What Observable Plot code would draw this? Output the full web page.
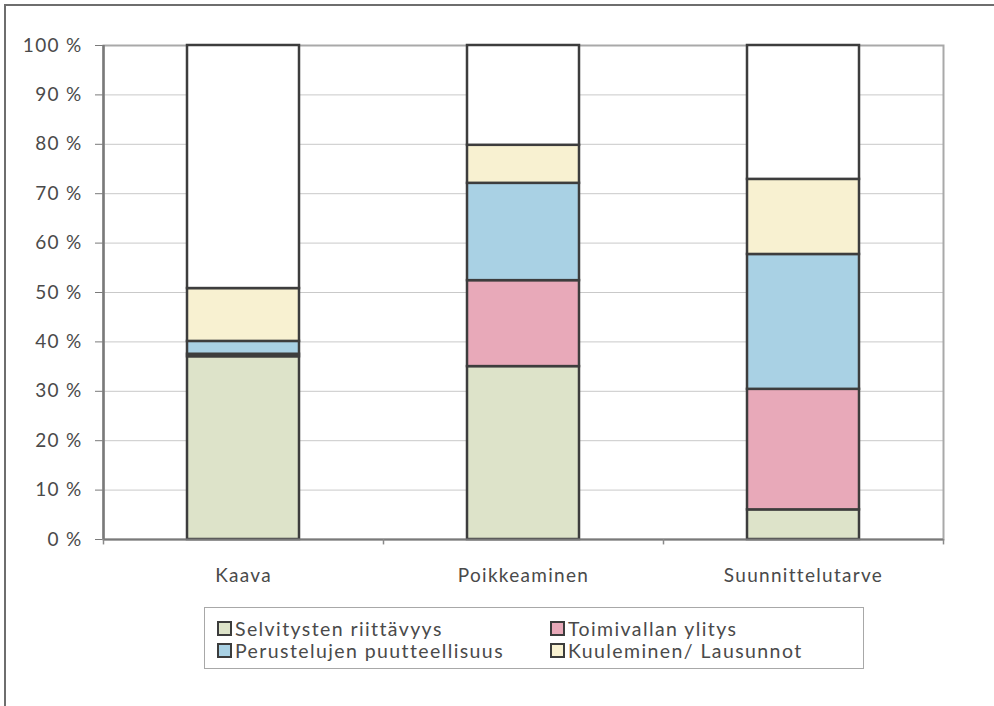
<!DOCTYPE html>
<html>
<head>
<meta charset="utf-8">
<script src="https://cdn.jsdelivr.net/npm/d3@7"></script>
<script src="https://cdn.jsdelivr.net/npm/@observablehq/plot@0.6"></script>
<style>
  html, body { margin: 0; padding: 0; background: #fff; }
  #wrap { position: relative; width: 994px; height: 706px; overflow: hidden; font-family: Lato, sans-serif; }
  #border { position: absolute; left: 4px; top: 4px; width: 1000px; height: 720px;
            border-top: 2px solid #6e6e6e; border-left: 2px solid #6e6e6e; }
  #chart { position: absolute; left: 0; top: 0; }
  #legend { position: absolute; left: 204px; top: 607px; width: 660px; height: 62px;
            border: 1.5px solid #a8a8a8; box-sizing: border-box; }
  .item { position: absolute; display: flex; align-items: center; font-size: 19.5px; color: #4a4a4a; letter-spacing: 1.4px; white-space: nowrap; }
  .sw { width: 11px; height: 11px; border: 2px solid #3c3c3c; margin-right: 3px; }
</style>
</head>
<body>
<div id="wrap">
  <div id="border"></div>
  <div id="chart"></div>
  <div id="legend"></div>
</div>
<script>
const categories = ["Kaava", "Poikkeaminen", "Suunnittelutarve"];
const seriesNames = ["Selvitysten riittävyys", "Toimivallan ylitys", "Perustelujen puutteellisuus", "Kuuleminen/ Lausunnot", "Muut"];
const seriesColors = ["#dde3c9", "#e8a9b9", "#a9d1e4", "#f8f1d1", "#ffffff"];
const selvitystenRiittavyys = [37, 35, 6];
const toimivallanYlitys = [0.5, 17.4, 24.4];
const perustelujenPuutteellisuus = [2.6, 19.7, 27.3];
const kuuleminenLausunnot = [10.7, 7.7, 15.2];
const muut = [49.2, 20.2, 27.1];
const legendSeries = seriesNames.slice(0, 4);
const legendOrder = [0, 1, 2, 3]; // grid: row1 = 0,1 ; row2 = 2,3

const seriesValues = [selvitystenRiittavyys, toimivallanYlitys, perustelujenPuutteellisuus, kuuleminenLausunnot, muut];
const data = [];
seriesNames.forEach((s, i) => categories.forEach((c, j) => data.push({cat: c, series: s, value: seriesValues[i][j]})));

const W = 994, H = 600, mL = 103, mR = 51, mT = 45, mB = 61;
const step = (W - mL - mR) / categories.length;
const yTicks = d3.range(0, 101, 10);

const chart = Plot.plot({
  width: W, height: H,
  marginLeft: mL, marginRight: mR, marginTop: mT, marginBottom: mB,
  style: {fontFamily: "Lato, sans-serif", fontSize: "19px", color: "#7a7a7a", background: "transparent", letterSpacing: "1.3px"},
  x: {domain: categories, paddingInner: 0.6, paddingOuter: 0.3, tickSize: 0, tickPadding: 29, label: null},
  y: {domain: [0, 100], ticks: 10, tickFormat: d => d + " %", tickSize: 8, tickPadding: 13, label: null},
  color: {domain: seriesNames, range: seriesColors},
  marks: [
    Plot.ruleY(yTicks, {stroke: "#c9c9c9", strokeWidth: 1}),
    Plot.frame({stroke: "#a9a9a9", strokeWidth: 2}),
    Plot.barY(data, {x: "cat", y: "value", fill: "series", z: "series", order: seriesNames,
                     stroke: "#3d3d3d", strokeWidth: 2.5}),
    Plot.ruleY([0], {stroke: "#7a7a7a", strokeWidth: 2}),
    Plot.ruleX(categories, {x: d => d, dx: -step / 2, y1: 0, y2: -1.1, stroke: "#8a8a8a", strokeWidth: 1.5}),
    Plot.ruleX(categories.slice(-1), {x: d => d, dx: step / 2, y1: 0, y2: -1.1, stroke: "#8a8a8a", strokeWidth: 1.5}),
    Plot.ruleX(categories.slice(0, 1), {x: d => d, dx: -step / 2, y1: 0, y2: 100, stroke: "#7a7a7a", strokeWidth: 2.5})
  ]
});
chart.querySelectorAll('[aria-label$="tick label"]').forEach(g => g.setAttribute("fill", "#4a4a4a"));
document.getElementById("chart").appendChild(chart);

// legend (built from the series arrays)
const legend = document.getElementById("legend");
const colX = [12, 345], rowY = [11, 33];
legendOrder.forEach((si, k) => {
  const it = document.createElement("div");
  it.className = "item";
  it.style.left = colX[k % 2] + "px";
  it.style.top = rowY[Math.floor(k / 2)] + "px";
  it.style.height = "18px";
  const sw = document.createElement("div");
  sw.className = "sw";
  sw.style.background = seriesColors[si];
  const tx = document.createElement("span");
  tx.textContent = legendSeries[si];
  it.appendChild(sw); it.appendChild(tx);
  legend.appendChild(it);
});
</script>
</body>
</html>
